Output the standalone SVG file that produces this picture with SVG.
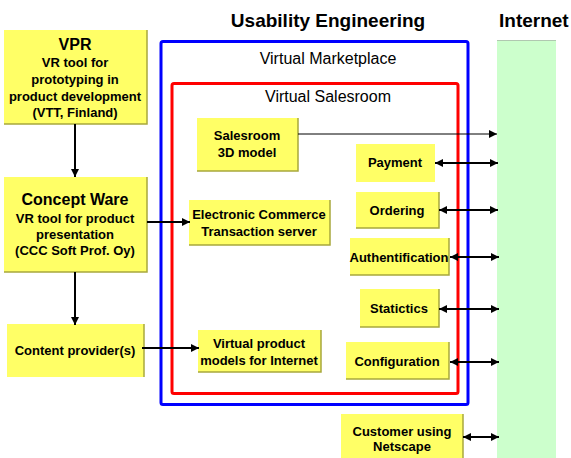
<svg xmlns="http://www.w3.org/2000/svg" width="571" height="458" viewBox="0 0 571 458">
<style>
.box{fill:#ffff66}
.sh{fill:none;stroke:#a8a83c;stroke-width:1.5}
.t{font-family:"Liberation Sans",Arial,sans-serif;font-weight:bold;font-size:13px;fill:#000;text-anchor:middle}
.big{font-size:16px}
.title{font-family:"Liberation Sans",Arial,sans-serif;font-weight:bold;font-size:19px;fill:#000}
.reg{font-family:"Liberation Sans",Arial,sans-serif;font-size:16px;fill:#000;text-anchor:middle}
.c{stroke:#000;stroke-width:2;fill:none}
.thin{stroke:#000;stroke-width:1;fill:none}
</style>
<defs>
<marker id="ah" viewBox="0 0 10 10" refX="10" refY="5" markerWidth="9" markerHeight="8" markerUnits="userSpaceOnUse" orient="auto-start-reverse">
<path d="M0,0 L10,5 L0,10 z" fill="#000"/>
</marker>
</defs>
<rect x="497" y="40" width="59" height="418" fill="#ccffcc"/>
<line x1="497" y1="40.5" x2="556" y2="40.5" stroke="#b0c8b0" stroke-width="1"/>
<text class="title" x="328" y="27" text-anchor="middle">Usability Engineering</text>
<text class="title" x="499" y="27">Internet</text>
<g id="virtual-marketplace">
<rect x="161" y="41.5" width="307" height="363" rx="2" fill="none" stroke="#0000ff" stroke-width="3"/>
<text class="reg" x="328" y="64">Virtual Marketplace</text>
</g>
<g id="virtual-salesroom">
<rect x="172" y="83.5" width="286" height="310" rx="2" fill="none" stroke="#ff0000" stroke-width="3"/>
<text class="reg" x="328" y="102">Virtual Salesroom</text>
</g>
<g id="vpr">
<rect class="box" x="4" y="30" width="143" height="94"/>
<path class="sh" d="M147,30 V124 H4"/>
<text class="t big" x="75" y="50">VPR</text>
<text class="t" x="75" y="67">VR tool for</text>
<text class="t" x="75" y="84">prototyping in</text>
<text class="t" x="75" y="101">product development</text>
<text class="t" x="75" y="117">(VTT, Finland)</text>
</g>
<g id="concept-ware">
<rect class="box" x="4" y="177" width="143" height="95"/>
<path class="sh" d="M147,177 V272 H4"/>
<text class="t big" x="75" y="205">Concept Ware</text>
<text class="t" x="75" y="223">VR tool for product</text>
<text class="t" x="75" y="239">presentation</text>
<text class="t" x="75" y="255">(CCC Soft Prof. Oy)</text>
</g>
<g id="content-provider">
<rect class="box" x="7" y="324" width="137" height="53"/>
<path class="sh" d="M144,324 V377"/>
<text class="t" x="75" y="355">Content provider(s)</text>
</g>
<g id="salesroom-3d">
<rect class="box" x="197" y="118" width="101" height="53"/>
<path class="sh" d="M298,118 V171 H197"/>
<text class="t" x="247" y="140">Salesroom</text>
<text class="t" x="247" y="157">3D model</text>
</g>
<g id="ec-server">
<rect class="box" x="189" y="200" width="141" height="45"/>
<path class="sh" d="M330,200 V245 H189"/>
<text class="t" x="259" y="219">Electronic Commerce</text>
<text class="t" x="259" y="236">Transaction server</text>
</g>
<g id="vp-models">
<rect class="box" x="198" y="330" width="123" height="42"/>
<path class="sh" d="M321,330 V372 H198"/>
<text class="t" x="259" y="348">Virtual product</text>
<text class="t" x="259" y="365">models for Internet</text>
</g>
<g id="payment">
<rect class="box" x="356" y="144" width="79" height="38"/>
<text class="t" x="395" y="167">Payment</text>
</g>
<g id="ordering">
<rect class="box" x="356" y="192" width="83" height="36"/>
<path class="sh" d="M439,192 V228 H356"/>
<text class="t" x="397" y="215">Ordering</text>
</g>
<g id="authentification">
<rect class="box" x="350" y="238" width="99" height="37"/>
<path class="sh" d="M449,238 V275 H350"/>
<text class="t" x="399" y="262">Authentification</text>
</g>
<g id="statictics">
<rect class="box" x="360" y="289" width="79" height="38"/>
<path class="sh" d="M439,289 V327 H360"/>
<text class="t" x="399" y="313">Statictics</text>
</g>
<g id="configuration">
<rect class="box" x="346" y="342" width="103" height="37"/>
<path class="sh" d="M449,342 V379 H346"/>
<text class="t" x="397" y="366">Configuration</text>
</g>
<g id="customer">
<rect class="box" x="341" y="414" width="122" height="44"/>
<path class="sh" d="M463,414 V458"/>
<text class="t" x="402" y="436">Customer using</text>
<text class="t" x="402" y="451">Netscape</text>
</g>
<g id="connectors">
<line class="c" x1="75" y1="124" x2="75" y2="177" marker-end="url(#ah)"/>
<line class="c" x1="75" y1="272" x2="75" y2="325" marker-end="url(#ah)"/>
<line class="c" x1="147" y1="222" x2="190" y2="222" marker-end="url(#ah)"/>
<line class="c" x1="142" y1="348" x2="199" y2="348" marker-end="url(#ah)"/>
<line class="thin" x1="298" y1="134" x2="497" y2="134" marker-end="url(#ah)"/>
<line class="c" x1="435" y1="163" x2="498" y2="163" marker-start="url(#ah)" marker-end="url(#ah)"/>
<line class="c" x1="439" y1="210" x2="498" y2="210" marker-start="url(#ah)" marker-end="url(#ah)"/>
<line class="c" x1="450" y1="257" x2="499" y2="257" marker-start="url(#ah)" marker-end="url(#ah)"/>
<line class="c" x1="439" y1="309" x2="499" y2="309" marker-start="url(#ah)" marker-end="url(#ah)"/>
<line class="c" x1="450" y1="362" x2="499" y2="362" marker-start="url(#ah)" marker-end="url(#ah)"/>
<line class="c" x1="463" y1="437" x2="499" y2="437" marker-start="url(#ah)" marker-end="url(#ah)"/>
</g>
</svg>
